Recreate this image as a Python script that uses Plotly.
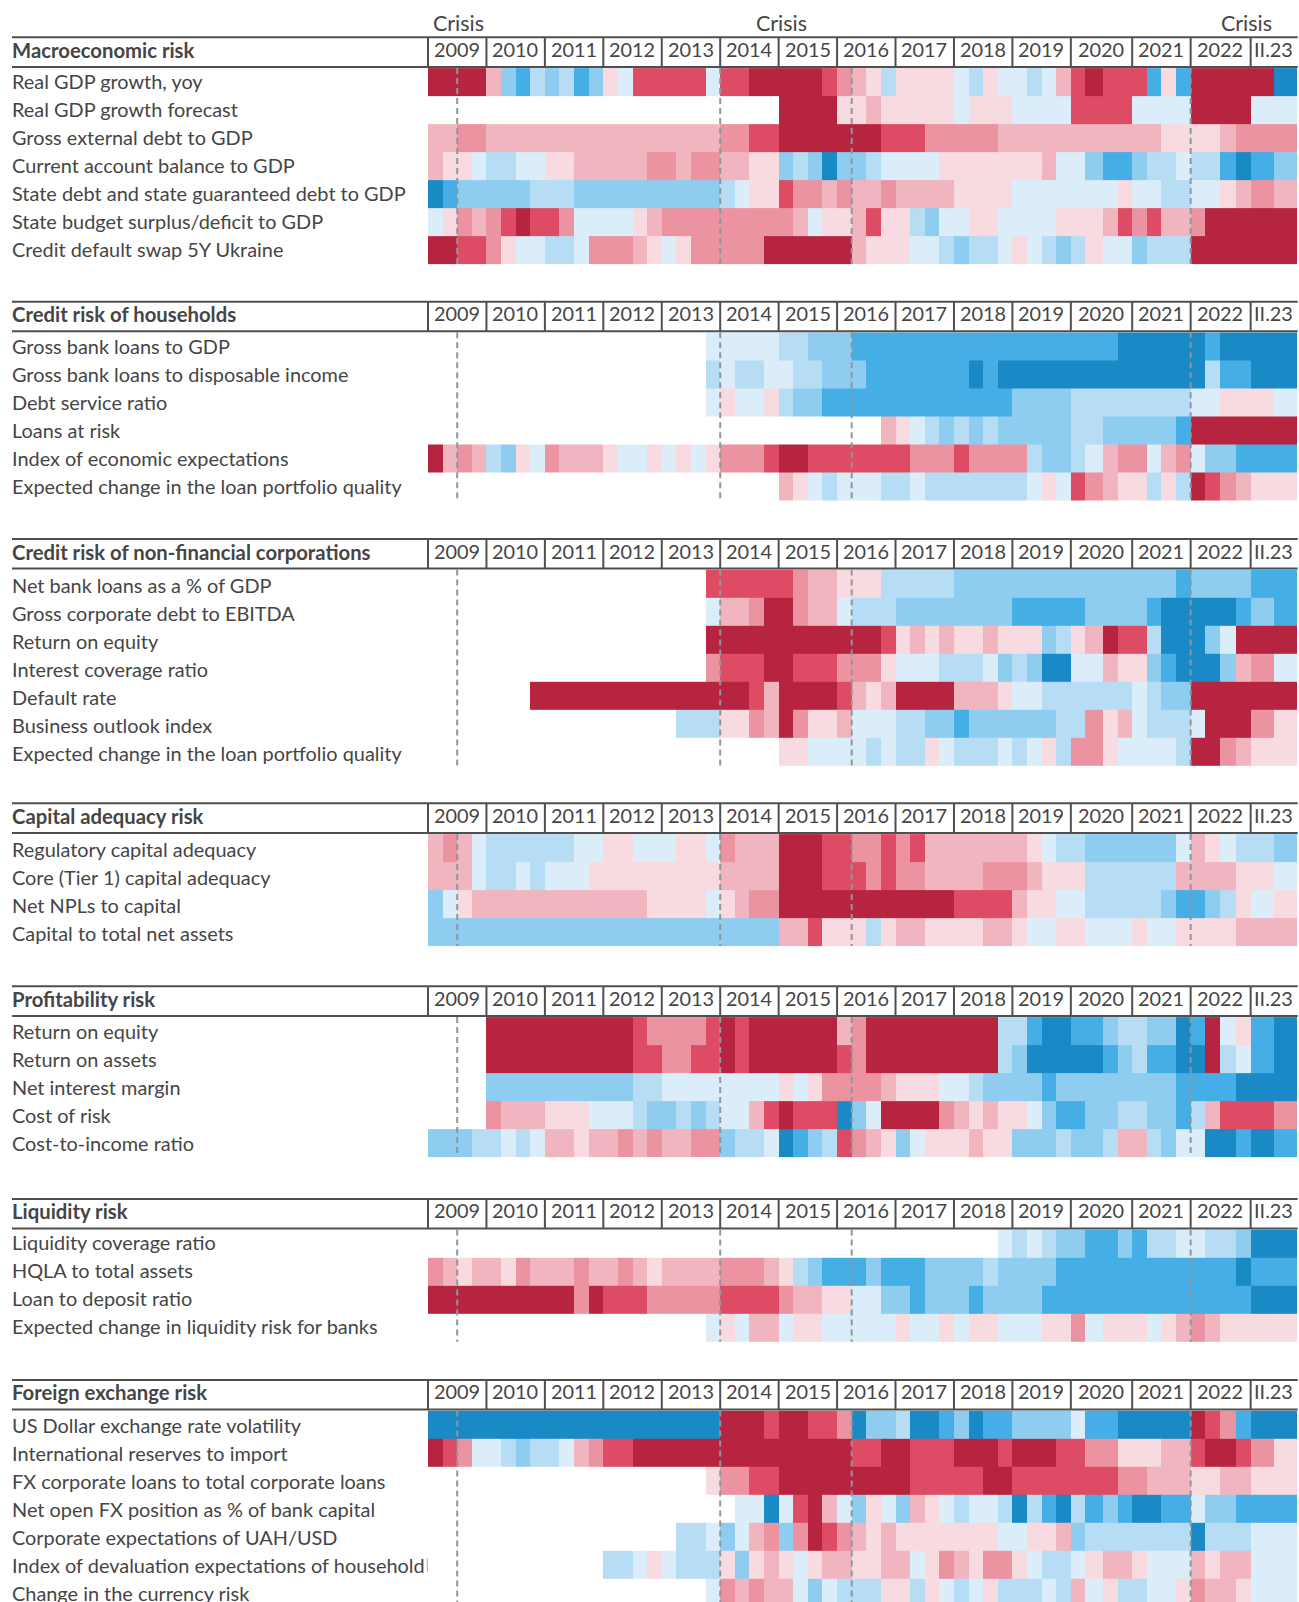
import plotly.graph_objects as go

# Risk level per quarter, one character per quarter, grouped by year (2009 ... 2022, II.23).
# 0 = lowest risk (dark blue) ... 4 = light blue, 5 = light red ... 9 = highest risk (dark red), . = no data
years = ["2009","2010","2011","2012","2013","2014","2015","2016","2017","2018","2019","2020","2021","2022","II.23"]

macro_title = "Macroeconomic risk"
macro_labels = ["Real GDP growth, yoy","Real GDP growth forecast","Gross external debt to GDP","Current account balance to GDP",
                "State debt and state guaranteed debt to GDP","State budget surplus/deficit to GDP","Credit default swap 5Y Ukraine"]
macro_values = [
"9999 6213 2312 5488 8884 8899 9998 7653 5555 4354 4346 8988 8151 9999 90",
".... .... .... .... .... .... 9999 5565 5555 4555 4444 8888 4444 9999 44",
"6677 6666 6666 6666 6666 7788 9999 9998 8877 7776 6666 6666 6655 5567 77",
"6554 3344 5566 6667 7677 6655 2320 2234 4445 5555 5564 4211 2334 3310 12",
"0122 2223 3322 2222 2222 3455 8776 7667 6666 5555 4444 4445 4433 4456 76",
"4576 7898 8744 4456 7777 7777 7645 5685 5324 4554 4445 5568 7866 7999 99",
"9988 7544 3347 7765 4577 7779 9999 9655 5443 2334 5432 3544 2333 9999 99",
]

household_title = "Credit risk of households"
household_labels = ["Gross bank loans to GDP","Gross bank loans to disposable income","Debt service ratio","Loans at risk",
                    "Index of economic expectations","Expected change in the loan portfolio quality"]
household_values = [
".... .... .... .... ...4 4444 3322 2111 1111 1111 1111 1110 0000 0100 00",
".... .... .... .... ...3 4334 4332 2211 1111 1010 0000 0000 0000 0311 00",
".... .... .... .... ...4 5445 3221 1111 1111 1111 2222 3333 3333 4455 54",
".... .... .... .... .... .... .... ...6 5432 3232 2222 3322 2221 9999 99",
"9676 3254 7666 5445 4545 7778 9988 8888 8777 8777 7322 3467 7467 4221 11",
".... .... .... .... .... .... 6543 4443 3433 3333 3454 8765 5353 9876 55",
]

corporate_title = "Credit risk of non-financial corporations"
corporate_labels = ["Net bank loans as a % of GDP","Gross corporate debt to EBITDA","Return on equity","Interest coverage ratio",
                    "Default rate","Business outlook index","Expected change in the loan portfolio quality"]
corporate_values = [
".... .... .... .... ...8 8888 8766 5553 3333 2222 2222 2222 2221 2222 11",
".... .... .... .... ...4 6679 9766 4333 2222 2222 1111 1222 2100 0001 21",
".... .... .... .... ...9 9999 9999 9998 5656 5565 5523 5698 8300 0249 99",
".... .... .... .... ...7 8889 9888 7775 4443 3342 3200 4465 5210 0026 74",
".... ...9 9999 9999 9999 9986 9999 8656 9999 6665 4433 3333 4322 9999 99",
".... .... .... .... .333 5576 9755 6444 3322 1222 2223 3756 4333 4999 75",
".... .... .... .... .... .... 5544 4434 3354 3334 3453 7754 4443 9976 55",
]

capital_title = "Capital adequacy risk"
capital_labels = ["Regulatory capital adequacy","Core (Tier 1) capital adequacy","Net NPLs to capital","Capital to total net assets"]
capital_values = [
"6764 3333 3344 5544 4554 7666 9998 8778 7866 6666 6543 3222 2224 6543 32",
"6664 3343 4445 5555 5555 6666 9998 8878 7766 6677 7655 5333 3336 6665 54",
"2456 6666 6666 6665 5554 5677 9999 9999 9999 8888 6554 4333 3321 1235 45",
"2222 2222 2222 2222 2222 2222 6685 5535 6655 5566 5445 5444 5445 5556 66",
]

profit_title = "Profitability risk"
profit_labels = ["Return on equity","Return on assets","Net interest margin","Cost of risk","Cost-to-income ratio"]
profit_values = [
".... 9999 9999 9987 7778 9899 9999 6799 9999 9993 3100 1123 3220 1945 10",
".... 9999 9999 9988 7788 9899 9999 8799 9999 9993 2000 0012 3110 0934 10",
".... 2222 2222 2233 4444 4444 5457 7776 5554 4322 2212 2222 2221 1110 00",
".... 7666 5554 4432 2323 4468 9888 0249 9997 6565 5421 1223 3221 3688 87",
"2223 3434 6656 6767 6677 2334 0123 8765 2455 5655 2223 2236 6324 4001 01",
]

liquidity_title = "Liquidity risk"
liquidity_labels = ["Liquidity coverage ratio","HQLA to total assets","Loan to deposit ratio","Expected change in liquidity risk for banks"]
liquidity_values = [
".... .... .... .... .... .... .... .... .... ...4 3432 2112 1334 4332 00",
"7656 6576 6676 6765 6666 7776 5321 1121 1122 2232 2221 1111 1111 1110 11",
"9999 9999 9979 8887 7777 8888 7665 5442 2122 2122 2211 1111 1111 1111 00",
".... .... .... .... ...4 5466 4554 4444 5445 4554 4455 7455 5456 7655 55",
]

fx_title = "Foreign exchange risk"
fx_labels = ["US Dollar exchange rate volatility","International reserves to import","FX corporate loans to total corporate loans",
             "Net open FX position as % of bank capital","Corporate expectations of UAH/USD",
             "Index of devaluation expectations of household","Change in the currency risk"]
fx_values = [
"0000 0000 0000 0000 0000 9998 9988 7022 3001 2011 2222 4110 0000 9871 00",
"9874 4323 3467 8899 9999 9999 9999 9889 9888 9998 9998 8775 5566 8998 75",
".... .... .... .... ...5 7788 9999 9999 9888 8899 8888 8887 7666 5566 55",
".... .... .... .... .... .440 4896 4254 2654 3443 0310 3121 0011 4221 11",
".... .... .... .... .334 2467 2798 7656 5555 5554 4556 2333 3333 0333 44",
".... .... .... 3345 4333 5256 5456 6556 6457 6577 5433 4566 5444 6566 44",
".... .... .... .... ...4 7676 6424 3335 5354 3453 3343 6453 3445 7665 44",
]

crisis_labels = ["Crisis", "Crisis", "Crisis"]
crisis_centers = [2.1, 24.2, 56.0]           # quarter position of each "Crisis" label
crisis_starts = [2, 20, 29, 52]              # quarter index of the dashed marker lines

# ---------- layout ----------
W, H = 1299, 1602
LEFT, RIGHT, TEXT_X = 428.0, 1297.7, 12
FONT = "Lato, sans-serif"
INK = "#454545"
LINE = "#4f4f4f"
DASH = "#8e979c"
LEVEL_COLORS = ["#1A8AC6","#46AEE6","#8FCDF0","#B6DDF4","#DAEDF9","#F7DBE0","#F1B5C0","#EB93A1","#DD4B65","#B72440"]
ROW_H = 28
HEADER_H = 29.6
UNIT = 14.61
# relative column width of every quarter (the source's columns are not quite even)
quarter_span = [1]*44 + [0.96,1.23,1.03,0.98] + [1,1,1,1] + [0.958,1.027,1.095,1.027] + [1.6,1.6]
edges = [0.0]
for s in quarter_span:
    edges.append(edges[-1] + s)
year_cells = [4]*14 + [2]
year_edges = [0]
for n in year_cells:
    year_edges.append(year_edges[-1] + n)

# title, labels, values, header top, row-label nudge, header-text nudge
sections = [
    (macro_title, macro_labels, macro_values, 37.3, -1.0, -1.5),
    (household_title, household_labels, household_values, 301.7, 0.0, -1.8),
    (corporate_title, corporate_labels, corporate_values, 539.0, 1.6, -1.2),
    (capital_title, capital_labels, capital_values, 803.3, 1.6, -1.8),
    (profit_title, profit_labels, profit_values, 986.3, 0.1, -1.8),
    (liquidity_title, liquidity_labels, liquidity_values, 1199.0, -1.7, -2.3),
    (fx_title, fx_labels, fx_values, 1380.0, 0.0, -2.0),
]

def parse(row):
    return [None if c == "." else int(c) for c in row.replace(" ", "")]

n = len(LEVEL_COLORS)
colorscale = []
for i, c in enumerate(LEVEL_COLORS):
    colorscale += [[i/n, c], [(i+1)/n, c]]

fig = go.Figure()
shapes, notes = [], []

def note(x, y, text, size=19.9, bold=False, anchor="center", xref="x"):
    notes.append(dict(x=x, y=y, xref=xref, yref="y", text=f"<b>{text}</b>" if bold else text,
                      showarrow=False, xanchor=anchor, yanchor="middle", borderpad=0, borderwidth=0,
                      font=dict(family=FONT, size=size, color=INK)))

for title, labels, values, top, label_nudge, head_nudge in sections:
    bottom = top + HEADER_H
    row_top = bottom + 1.2
    y_edges = [row_top + ROW_H*i for i in range(len(labels)+1)]
    fig.add_trace(go.Heatmap(
        x=edges, y=y_edges, z=[parse(v) for v in values],
        zmin=-0.5, zmax=9.5, colorscale=colorscale, showscale=False, hoverongaps=False, xgap=0, ygap=0))
    # header rules and year separators
    for yy in (top, bottom):
        shapes.append(dict(type="line", xref="paper", yref="y", x0=TEXT_X/W, x1=RIGHT/W, y0=yy, y1=yy,
                           line=dict(color=LINE, width=2)))
    for i, yl in enumerate(years):
        x0, x1 = edges[year_edges[i]], edges[year_edges[i+1]]
        shapes.append(dict(type="line", xref="x", yref="y", x0=x0, x1=x0, y0=top, y1=bottom,
                           line=dict(color=LINE, width=2)))
        note((x0+x1)/2 - 0.02, top + 13.4 + head_nudge, yl)
    note(TEXT_X/W, top + 14 + head_nudge, title, size=20.3, bold=True, anchor="left", xref="paper")
    for i, lab in enumerate(labels):
        note(TEXT_X/W, y_edges[i] + ROW_H/2 - 0.3 + label_nudge, lab, anchor="left", xref="paper")
    # crisis markers
    for q in crisis_starts:
        shapes.append(dict(type="line", xref="x", yref="y", x0=edges[q], x1=edges[q], y0=bottom+1, y1=y_edges[-1],
                           line=dict(color=DASH, width=2, dash="6px,4px")))

for lab, pos in zip(crisis_labels, crisis_centers):
    note(pos, 23.0, lab, size=21.5)

# the clipped tail of the long FX label
shapes.append(dict(type="line", xref="paper", yref="y", x0=427.3/W, x1=427.3/W, y0=1558, y1=1572,
                   line=dict(color="#b5b5b5", width=1)))

fig.update_layout(
    width=W, height=H, margin=dict(l=0, r=0, t=0, b=0), autosize=False,
    paper_bgcolor="white", plot_bgcolor="white", showlegend=False,
    xaxis=dict(range=[-LEFT/UNIT, (W-LEFT)/UNIT], domain=[0, 1], visible=False, fixedrange=True),
    yaxis=dict(range=[H, 0], domain=[0, 1], visible=False, fixedrange=True),
    shapes=shapes, annotations=notes,
)
fig.write_html("out.html", config={"displayModeBar": False},
               post_script="document.body.style.margin='0';document.body.style.overflow='hidden';")
